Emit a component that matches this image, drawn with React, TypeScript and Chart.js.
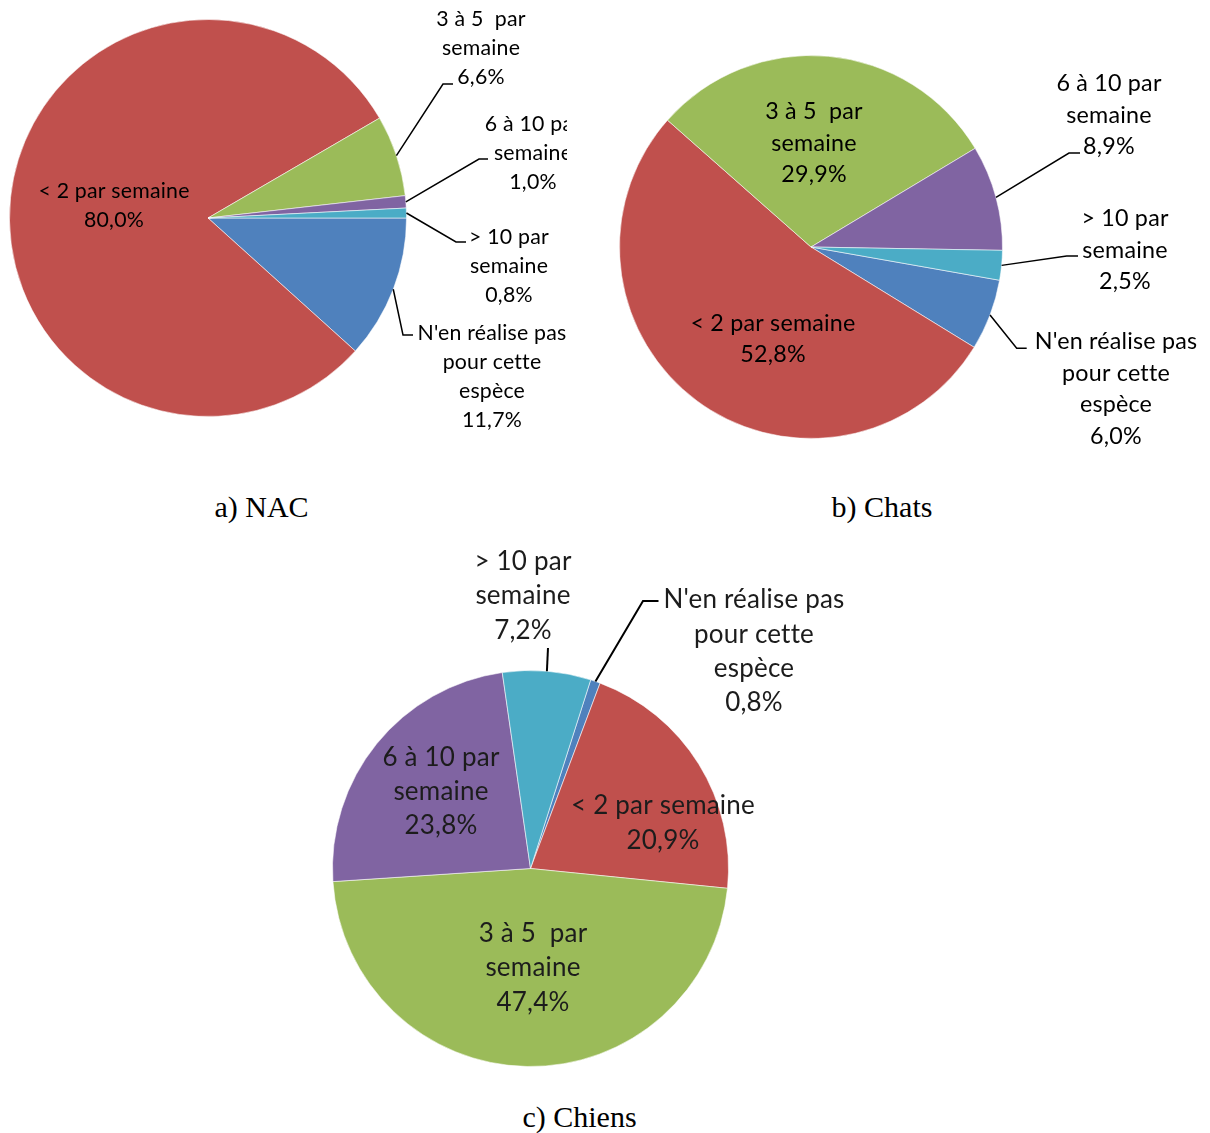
import React, { useEffect, useRef } from "react";
import { Chart, registerables } from "chart.js";

Chart.register(...registerables);

// Slice categories (same order in every panel) and their label line breaks
const categories = [
  "N'en réalise pas pour cette espèce",
  "< 2 par semaine",
  "3 à 5  par semaine",
  "6 à 10 par semaine",
  "> 10 par semaine",
];
const categoryLines = [
  ["N'en réalise pas", "pour cette", "espèce"],
  ["< 2 par semaine"],
  ["3 à 5  par", "semaine"],
  ["6 à 10 par", "semaine"],
  ["> 10 par", "semaine"],
];

// Percentages per species
const nacValues = [11.7, 80.0, 6.6, 1.0, 0.8];
const chatsValues = [6.0, 52.8, 29.9, 8.9, 2.5];
const chiensValues = [0.8, 20.9, 47.4, 23.8, 7.2];

const sliceColors = ["#4F81BD", "#C0504D", "#9BBB59", "#8064A2", "#4BACC6"];

const panelCaptions = ["a) NAC", "b) Chats", "c) Chiens"];

type Pt = [number, number];
type LabelSpec = { dx: number; dy: number; leader?: Pt[] };
type Panel = {
  values: number[];
  rotation: number;
  box: { left: number; top: number; width: number; height: number };
  center: { x: number; y: number };
  radius: number;
  fontSize: number;
  lineHeight: number;
  lineWidth: number;
  textColor: string;
  blur: number;
  labels: LabelSpec[];
};

const formatPct = (v: number) => v.toFixed(1).replace(".", ",") + "%";

const panels: Panel[] = [
  {
    values: nacValues,
    rotation: 90,
    box: { left: 0, top: 0, width: 567, height: 440 },
    center: { x: 208, y: 218 },
    radius: 199,
    fontSize: 21.3,
    lineHeight: 29,
    lineWidth: 1.5,
    textColor: "#000",
    blur: 0,
    labels: [
      { dx: 284, dy: 158.5, leader: [[195, 117], [205, 117]] },
      { dx: -94, dy: -12.5 },
      { dx: 273, dy: -170.3, leader: [[235, -134], [245, -134]] },
      { dx: 325, dy: -64.7, leader: [[271, -59], [280, -59]] },
      { dx: 301, dy: 47.7, leader: [[248, 24], [258, 24]] },
    ],
  },
  {
    values: chatsValues,
    rotation: 100,
    box: { left: 600, top: 30, width: 610, height: 440 },
    center: { x: 811, y: 247 },
    radius: 192,
    fontSize: 23.3,
    lineHeight: 31.5,
    lineWidth: 1.5,
    textColor: "#000",
    blur: 0,
    labels: [
      { dx: 305, dy: 142, leader: [[205.7, 101.3], [215.7, 101.3]] },
      { dx: -38, dy: 92 },
      { dx: 3, dy: -104 },
      { dx: 298, dy: -132, leader: [[258, -94], [269, -94]] },
      { dx: 314, dy: 3, leader: [[255.7, 9], [267, 9]] },
    ],
  },
  {
    values: chiensValues,
    rotation: 17.7,
    box: { left: 300, top: 530, width: 600, height: 560 },
    center: { x: 530.5, y: 868.5 },
    radius: 198.5,
    fontSize: 26,
    lineHeight: 34.3,
    lineWidth: 2,
    textColor: "#1c1c1c",
    blur: 0.5,
    labels: [
      { dx: 223.5, dy: -217, leader: [[112.5, -267.5], [128, -267.5]] },
      { dx: 132.5, dy: -45.5 },
      { dx: 2.5, dy: 99.5 },
      { dx: -89.5, dy: -77 },
      { dx: -7.5, dy: -272.5, leader: [[17.5, -220.5]] },
    ],
  },
];

// Draws the data labels and their leader lines around each pie
const calloutPlugin = {
  id: "callouts",
  afterDatasetsDraw(chart: any, _args: any, opts: any) {
    const ctx: CanvasRenderingContext2D = chart.ctx;
    const meta = chart.getDatasetMeta(0);
    const values: number[] = chart.data.datasets[0].data;
    const panel: Panel = opts.panel;
    ctx.save();
    ctx.strokeStyle = "#000";
    ctx.lineWidth = panel.lineWidth;
    ctx.fillStyle = panel.textColor;
    ctx.font = `${panel.fontSize}px Lato, "Open Sans", sans-serif`;
    (ctx as any).letterSpacing = "0.2px";
    ctx.textAlign = "center";
    ctx.textBaseline = "middle";
    meta.data.forEach((arc: any, i: number) => {
      const spec = panel.labels[i];
      const { x, y, startAngle, endAngle, outerRadius } = arc.getProps(
        ["x", "y", "startAngle", "endAngle", "outerRadius"],
        true
      );
      const mid = (startAngle + endAngle) / 2;
      if (spec.leader) {
        ctx.beginPath();
        ctx.moveTo(x + Math.cos(mid) * outerRadius, y + Math.sin(mid) * outerRadius);
        spec.leader.forEach(([px, py]) => ctx.lineTo(x + px, y + py));
        ctx.stroke();
      }
      const lines = [...categoryLines[i], formatPct(values[i])];
      const n = lines.length;
      lines.forEach((t, k) => {
        ctx.fillText(t, x + spec.dx, y + spec.dy + (k - (n - 1) / 2) * panel.lineHeight);
      });
    });
    ctx.restore();
  },
};

function PiePanel({ panel }: { panel: Panel }) {
  const ref = useRef<HTMLCanvasElement | null>(null);
  useEffect(() => {
    if (!ref.current) return;
    const { box, center, radius } = panel;
    const cx = center.x - box.left;
    const cy = center.y - box.top;
    const chart = new Chart(ref.current, {
      type: "pie",
      data: {
        labels: categories,
        datasets: [
          {
            data: panel.values,
            backgroundColor: sliceColors,
            borderColor: "rgba(255,255,255,0.55)",
            borderWidth: 1,
            hoverOffset: 0,
          },
        ],
      },
      options: {
        responsive: false,
        animation: false,
        rotation: panel.rotation,
        layout: {
          padding: {
            left: cx - radius,
            top: cy - radius,
            right: box.width - cx - radius,
            bottom: box.height - cy - radius,
          },
        },
        plugins: {
          legend: { display: false },
          tooltip: { enabled: false },
          callouts: { panel },
        } as any,
      },
      plugins: [calloutPlugin],
    });
    return () => chart.destroy();
  }, [panel]);
  const { box } = panel;
  return (
    <canvas
      ref={ref}
      width={box.width}
      height={box.height}
      style={{
        position: "absolute",
        left: box.left,
        top: box.top,
        width: box.width,
        height: box.height,
        filter: panel.blur ? `blur(${panel.blur}px)` : undefined,
      }}
    />
  );
}

const captionCenters: Pt[] = [
  [261.5, 492],
  [882, 492],
  [579.5, 1102],
];

export default function App() {
  return (
    <div
      style={{
        position: "absolute",
        left: 0,
        top: 0,
        width: 1210,
        height: 1133,
        overflow: "hidden",
        background: "#fff",
      }}
    >
      {panels.map((p, i) => (
        <PiePanel key={i} panel={p} />
      ))}
      {panelCaptions.map((c, i) => (
        <div
          key={c}
          style={{
            position: "absolute",
            left: captionCenters[i][0] - 150,
            top: captionCenters[i][1],
            width: 300,
            textAlign: "center",
            font: '30px "Liberation Serif", "Times New Roman", serif',
            lineHeight: "30px",
            color: "#000",
            whiteSpace: "nowrap",
          }}
        >
          {c}
        </div>
      ))}
    </div>
  );
}
